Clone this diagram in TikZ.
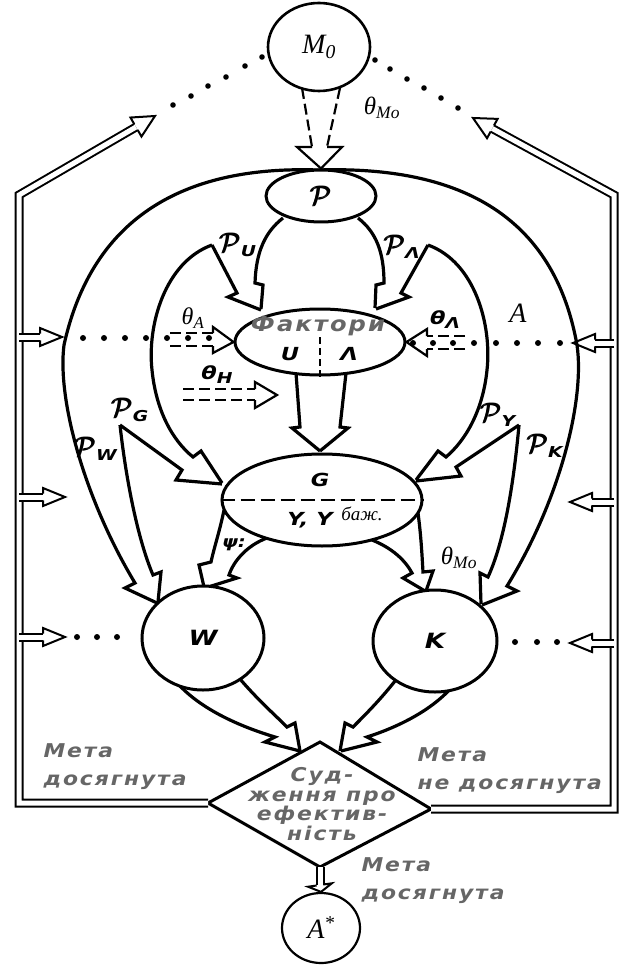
\documentclass[tikz,border=0pt]{standalone}
\usepackage{amsmath}
\usepackage{fontspec}
\usetikzlibrary{calc,shapes.geometric}
\newfontfamily\lbl{DejaVu Sans}[FakeStretch=1.15,LetterSpace=10]
\newfontfamily\blb{DejaVu Sans}[FakeStretch=1.25]
\newfontfamily\tms{Liberation Serif}
\definecolor{lblgray}{HTML}{666666}
\newcommand\hhead[3]{\draw[headline] ($#1!3.4pt!90:#2$) -- ($#1!#3!90:#2$) -- #2 -- ($#1!#3!-90:#2$) -- ($#1!3.4pt!-90:#2$);}
\newcommand\scrP{\scalebox{1.3}{$\pmb{\mathcal{P}}$}}
\newcommand\psub[1]{\raisebox{-4pt}{\blb\bfseries\itshape\fontsize{15}{15}\selectfont #1}}
\begin{document}
\begin{tikzpicture}[x=1pt,y=-1pt,
 band/.style={line width=3.2pt,line join=miter,miter limit=4},
 ring/.style={draw,line width=3pt,fill=white,inner sep=0pt,ellipse},
 dbl/.style={double,double distance=5pt,line width=2pt,line join=miter},
 headline/.style={line width=2pt,line join=miter},
 thinhead/.style={line width=2.2pt,line join=miter},
 dsh/.style={line width=2.2pt,dash pattern=on 11pt off 5pt},
 bold/.style={font=\blb\bfseries\itshape\fontsize{18}{18}\selectfont},
 gray/.style={text=lblgray,font=\lbl\bfseries\itshape\fontsize{19}{28}\selectfont}]
\useasboundingbox (0,0) rectangle (624,965);

% corner coordinates
\coordinate (Ptop) at (318,170);
\coordinate (CU) at (212,245);
\coordinate (CL) at (428,245);
\coordinate (CG) at (120,425);
\coordinate (CY) at (519,425);

% ---- bands from P ----
\draw[band] (283,218) .. controls (265,232) and (256,252) .. (255,283) -- (263,285) -- (261,309);
\draw[band] (CU) -- (237,293) -- (228,297) -- (261,310);
\draw[band] (358,218) .. controls (376,232) and (384,252) .. (384,283) -- (376,285) -- (375,308);
\draw[band] (CL) -- (401,293) -- (409,297) -- (376,309);
% inner rings and P_G, P_Y
\draw[band] (CU) .. controls (165,262) and (147,325) .. (152,370) .. controls (156,410) and (172,440) .. (193,457) -- (201,451) -- (222,483);
\draw[band] (CG) -- (182,470) -- (176,480) -- (222,484);
\draw[band] (CL) .. controls (475,262) and (492,325) .. (487,370) .. controls (483,410) and (466,440) .. (446,457) -- (438,451) -- (416,480);
\draw[band] (CY) -- (456,467) -- (461,476) -- (416,481);
% P_W, P_K
\draw[band] (CG) .. controls (126,480) and (138,540) .. (153,575) -- (161,572) -- (158,602);
\draw[band] (Ptop) .. controls (200,166) and (95,205) .. (64,345) .. controls (57,400) and (85,500) .. (135,583) -- (125,588) -- (157,603);
\draw[band] (CY) .. controls (514,480) and (505,540) .. (488,577) -- (480,573) -- (481,604);
\draw[band] (Ptop) .. controls (445,166) and (552,205) .. (577,345) .. controls (585,400) and (560,500) .. (507,586) -- (517,591) -- (482,605);
% Factori -> G
\draw[band] (296,373) -- (300,427) -- (292,428) -- (320,451);
\draw[band] (346,373) -- (340,427) -- (348,428) -- (320,451);
% G -> W
\draw[band] (224,510) .. controls (220,530) and (214,548) .. (211,562) -- (199,565) -- (204,587);
\draw[band] (267,538) .. controls (248,545) and (234,560) .. (229,575) -- (237,578) -- (205,588);
% G -> K
\draw[band] (372,540) .. controls (392,548) and (405,560) .. (412,573) -- (403,578) -- (425,591);
\draw[band] (418,513) .. controls (421,535) and (422,555) .. (423,572) -- (433,571) -- (426,591);
% W -> diamond
\draw[band] (180,686) .. controls (205,712) and (245,728) .. (275,737) -- (265,742) -- (300,751);
\draw[band] (240,679) .. controls (258,700) and (275,715) .. (287,727) -- (295,723) -- (300,751);
% K -> diamond
\draw[band] (452,687) .. controls (430,712) and (395,728) .. (367,737) -- (377,742) -- (341,751);
\draw[band] (395,681) .. controls (380,700) and (365,715) .. (353,727) -- (345,723) -- (340,751);

% ---- nodes ----
\node[ring, minimum width=102pt, minimum height=88pt, line width=2.6pt] (M0) at (319,47) {};
\node[ring, minimum width=110pt, minimum height=52pt] (P) at (321,196) {};
\node[ring, minimum width=170pt, minimum height=66pt] (F) at (320,342) {};
\node[ring, minimum width=200pt, minimum height=92pt] (G) at (322,500) {};
\node[ring, minimum width=122pt, minimum height=104pt] (W) at (203,638) {};
\node[ring, minimum width=124pt, minimum height=102pt] (K) at (435,641) {};
\node[ring, minimum width=78pt, minimum height=70pt, line width=2.2pt] (As) at (321,928) {};

% diamond
\coordinate (Dt) at (320,742);
\coordinate (Dr) at (431,809);
\coordinate (Db) at (320,867);
\coordinate (Dl) at (208,803);
\draw[line width=3pt,line join=miter] (Dt) -- (Dr) -- (Db) -- (Dl) -- cycle;

\draw[line width=2.2pt, dash pattern=on 7pt off 4pt] (F.south) -- (320,337);
\draw[line width=2.2pt, dash pattern=on 14pt off 6pt] (G.west) -- (G.east);

% ---- feedback double lines ----
\coordinate (LTc) at (19,195);
\coordinate (LTt) at (155,116);
\coordinate (LTb) at ($(LTt)!22pt!(LTc)$);
\coordinate (RTc) at (614,195);
\coordinate (RTt) at (473,118);
\coordinate (RTb) at ($(RTt)!22pt!(RTc)$);
\draw[dbl] (Dl) -- (19,803) -- (LTc) -- (LTb);
\draw[dbl] (Dr) -- (614,809) -- (RTc) -- (RTb);
\hhead{(LTb)}{(LTt)}{11pt}
\hhead{(RTb)}{(RTt)}{11pt}
% inward small arrows
\foreach \y/\t in {337/62,497/65,637/65}{
  \draw[dbl] (19,\y) -- ({\t-22},\y);
  \hhead{({\t-22},\y)}{(\t,\y)}{9pt}
}
\foreach \y/\t in {343/573,502/570,643/570}{
  \draw[dbl] (614,\y) -- ({\t+22},\y);
  \hhead{({\t+22},\y)}{(\t,\y)}{9pt}
}
% diamond -> A*
\draw[dbl] (Db) -- (320,885);
\hhead{(320,885)}{(As.north)}{12pt}

% ---- dotted lines ----
\foreach \p in {(262,57),(245,66),(226,77),(208,86),(191,96),(173,105),
                (375,60),(390,69),(407,79),(424,88),(441,98),(458,108)}
  \fill \p circle (2.8pt);
\foreach \x in {83,104,125,146,167,188,209} \fill (\x,338) circle (3pt);
\foreach \x in {413,433,453,474,496,517,538,560} \fill (\x,343) circle (3pt);
\foreach \x in {77,97,117} \fill (\x,637) circle (3pt);
\foreach \x in {515,537,557} \fill (\x,642) circle (3pt);

% ---- dashed theta arrows ----
\draw[dsh] (302,88) -- (312,147);
\draw[dsh] (340,88) -- (327,147);
\draw[thinhead] (312,147) -- (297,147) -- (P.north) -- (342,147) -- (327,147);
\draw[dsh] (170,333) -- (213,333);
\draw[dsh] (170,346) -- (213,346);
\draw[thinhead] (213,333) -- (213,327) -- (F.west) -- (213,353) -- (213,346);
\draw[dsh] (183,389) -- (255,389);
\draw[dsh] (183,400) -- (255,400);
\draw[thinhead] (255,389) -- (255,382) -- (277,395) -- (255,408) -- (255,400);
\draw[dsh] (465,336) -- (427,336);
\draw[dsh] (465,349) -- (427,349);
\draw[thinhead] (427,336) -- (427,329) -- (F.east) -- (427,356) -- (427,349);

% ---- texts ----
\node[font=\tms\itshape\fontsize{28}{28}\selectfont] (tM0) at (M0) {M\textsubscript{0}};
\node[font=\tms\itshape\fontsize{25}{25}\selectfont] (tMo1) at (382,108) {θ\textsubscript{Mo}};
\node[font=\tms\itshape\fontsize{25}{25}\selectfont] (tMo2) at (459,558) {θ\textsubscript{Mo}};
\node[font=\fontsize{20}{20}\selectfont] (tP) at (P) {\scrP};
\node[font=\fontsize{20}{20}\selectfont] (tPU) at (238,245) {\scrP\psub{U}};
\node[font=\fontsize{20}{20}\selectfont] (tPL) at (402,247) {\scrP\psub{Λ}};
\node[font=\fontsize{20}{20}\selectfont] (tPG) at (130,410) {\scrP\psub{G}};
\node[font=\fontsize{20}{20}\selectfont] (tPW) at (96,449) {\scrP\psub{W}};
\node[font=\fontsize{20}{20}\selectfont] (tPY) at (498,415) {\scrP\psub{Y}};
\node[font=\fontsize{20}{20}\selectfont] (tPK) at (545,446) {\scrP\psub{K}};
\node[font=\tms\itshape\fontsize{28}{28}\selectfont] (tA) at (518,313) {A};
\node[font=\tms\itshape\fontsize{24}{24}\selectfont] (tthA) at (193,318) {θ\textsubscript{A}};
\node[bold] (tthL) at (445,320) {θ\psub{Λ}};
\node[bold] (tthH) at (217,375) {θ\psub{H}};
\node[gray, font=\lbl\bfseries\itshape\fontsize{21}{21}\selectfont] (tF) at (318,326) {Фактори};
\node[bold] (tU) at (290,354) {U};
\node[bold] (tLam) at (349,354) {Λ};
\node[bold] (tG) at (320,480) {G};
\node[bold] (tY) at (310,520) {Y, Y};
\node[font=\tms\itshape\fontsize{19}{19}\selectfont, fill=white, inner sep=2pt] (tbaz) at (362,514) {баж.};
\node[bold, font=\blb\bfseries\itshape\fontsize{21}{21}\selectfont] (tW) at (W) {W};
\node[bold, font=\blb\bfseries\itshape\fontsize{21}{21}\selectfont] (tK) at (K) {K};
\node[bold, font=\blb\bfseries\itshape\fontsize{16}{16}\selectfont] (tpsi) at (234,545) {ψ:};
\node[gray, align=center, font=\lbl\bfseries\itshape\fontsize{19}{19.5}\selectfont] (tD) at (322,804) {Суд-\\ження про\\ефектив-\\ність};
\node[gray, anchor=west, align=left] (tML) at (40,767) {Мета\\досягнута};
\node[gray, anchor=west, align=left] (tMR) at (414,771) {Мета\\не досягнута};
\node[gray, anchor=west, align=left] (tMB) at (358,881) {Мета\\досягнута};
\node[font=\tms\itshape\fontsize{28}{28}\selectfont] (tAs) at (As) {A\textsuperscript{*}};
\end{tikzpicture}
\end{document}
